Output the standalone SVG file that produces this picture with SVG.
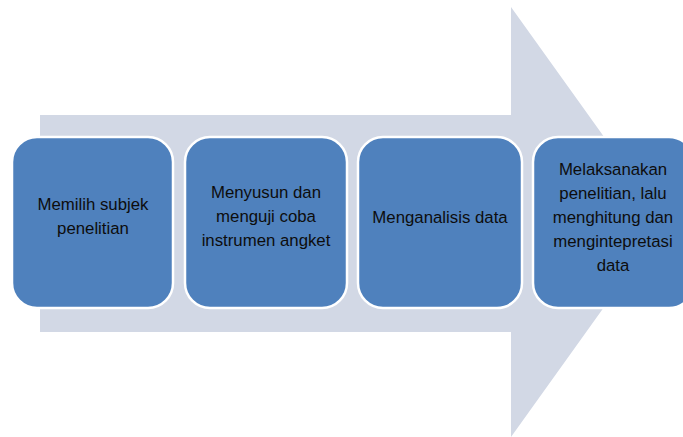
<svg xmlns="http://www.w3.org/2000/svg" width="683" height="437" viewBox="0 0 683 437">
<style>
.box{fill:#4F81BD;stroke:#FFFFFF;stroke-width:2.5}
.t{font-family:"Liberation Sans",Arial,sans-serif;font-size:16.8px;fill:#0D0D0D;text-anchor:middle}
</style>
<rect width="683" height="437" fill="#FFFFFF"/>
<g id="connectors">
<polygon id="arrow" points="40,115 511,115 511,7 665,222 511,437 511,332 40,332" fill="#D2D8E5"/>
</g>
<g id="node1">
<rect class="box" x="12" y="137" width="161" height="171" rx="25" ry="25"/>
<text class="t" x="93" y="210">Memilih subjek</text>
<text class="t" x="93" y="234">penelitian</text>
</g>
<g id="node2">
<rect class="box" x="185" y="137" width="162" height="171" rx="25" ry="25"/>
<text class="t" x="266" y="198">Menyusun dan</text>
<text class="t" x="266" y="222">menguji coba</text>
<text class="t" x="266" y="246">instrumen angket</text>
</g>
<g id="node3">
<rect class="box" x="358" y="137" width="164" height="171" rx="25" ry="25"/>
<text class="t" x="440" y="223">Menganalisis data</text>
</g>
<g id="node4">
<rect class="box" x="533" y="137" width="161" height="171" rx="25" ry="25"/>
<text class="t" x="613" y="175">Melaksanakan</text>
<text class="t" x="613" y="199">penelitian, lalu</text>
<text class="t" x="613" y="223">menghitung dan</text>
<text class="t" x="613" y="247">mengintepretasi</text>
<text class="t" x="613" y="271">data</text>
</g>
</svg>
